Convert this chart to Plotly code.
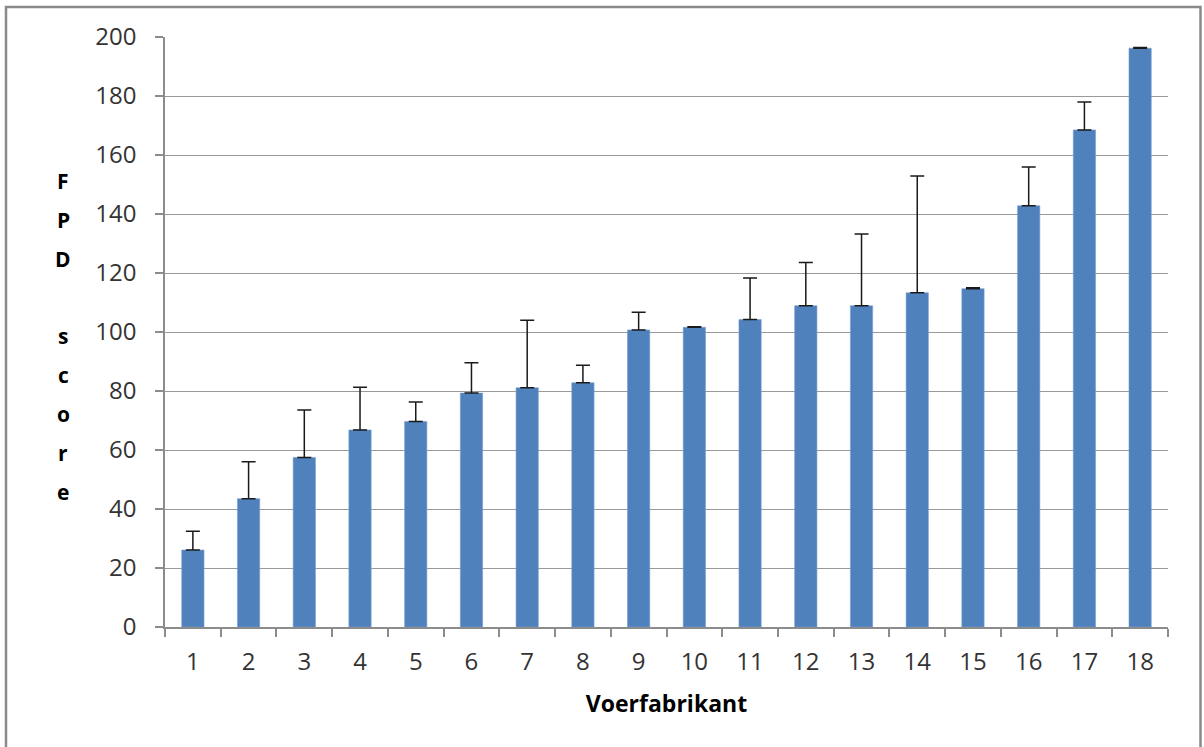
import plotly.graph_objects as go

categories = [str(i) for i in range(1, 19)]
fpd_score = [26.1, 43.5, 57.5, 66.8, 69.7, 79.3, 81.1, 82.8, 100.7, 101.6,
             104.2, 108.9, 108.9, 113.3, 114.7, 142.8, 168.5, 196.2]
error_plus = [6.4, 12.5, 16.1, 14.5, 6.6, 10.3, 22.9, 5.9, 6.0, 0.2,
              14.1, 14.7, 24.3, 39.6, 0.3, 13.1, 9.5, 0.2]
y_ticks = [0, 20, 40, 60, 80, 100, 120, 140, 160, 180, 200]
y_title_letters = ["F", "P", "D", "", "s", "c", "o", "r", "e"]

W, H = 1204, 747
ML, MR, MT, MB = 165, 36, 37, 120
PW, PH = W - ML - MR, H - MT - MB

font_family = "Open Sans, Liberation Sans, sans-serif"

fig = go.Figure()
fig.add_trace(go.Bar(
    x=categories, y=fpd_score,
    marker=dict(color="#4F81BD", line=dict(color="#7BA0CF", width=0.6)),
    error_y=dict(type="data", array=error_plus, arrayminus=[0] * len(error_plus),
                 symmetric=False, color="#1a1a1a", thickness=1.5, width=7),
    showlegend=False,
))

def px_to_paper_x(px):
    return (px - ML) / PW

def px_to_paper_y(py):
    return (H - MB - py) / PH

annotations = []
first_center = 181.5
step = 38.75
for i, ch in enumerate(y_title_letters):
    if not ch:
        continue
    annotations.append(dict(
        text="<b>" + ch + "</b>", x=px_to_paper_x(63), y=px_to_paper_y(first_center + i * step),
        xref="paper", yref="paper", xanchor="center", yanchor="middle",
        showarrow=False, font=dict(family=font_family, size=21, color="#000000"),
    ))

fig.update_layout(
    width=W, height=H,
    margin=dict(l=ML, r=MR, t=MT, b=MB),
    paper_bgcolor="white", plot_bgcolor="white",
    bargap=0.6,
    font=dict(family=font_family, color="#404040"),
    xaxis=dict(
        type="category", tickson="boundaries", ticks="outside", ticklen=8,
        tickcolor="#8c8c8c", tickwidth=1.5,
        showline=True, linecolor="#8c8c8c", linewidth=1.5,
        showgrid=False, tickfont=dict(size=24, color="#333333"),
        ticklabelstandoff=12,
        title=dict(text="<b>Voerfabrikant</b>", font=dict(size=23, color="#000000"), standoff=20),
    ),
    yaxis=dict(
        range=[0, 200], tickvals=y_ticks, ticks="outside", ticklen=8,
        tickcolor="#8c8c8c", tickwidth=1.5,
        showline=True, linecolor="#8c8c8c", linewidth=1.5,
        showgrid=True, gridcolor="#9a9a9a", gridwidth=1.2,
        zeroline=False, tickfont=dict(size=24, color="#333333"),
        ticklabelstandoff=14,
    ),
    annotations=annotations,
    shapes=[dict(
        type="rect", xref="paper", yref="paper",
        x0=px_to_paper_x(6), x1=px_to_paper_x(1200.5),
        y0=px_to_paper_y(760), y1=px_to_paper_y(7),
        line=dict(color="#8a8a8a", width=2.5), fillcolor="rgba(0,0,0,0)",
        layer="above",
    )],
)

fig.write_html("out.html", config={"displayModeBar": False},
               post_script="document.body.style.margin='0';document.body.style.overflow='hidden';")
